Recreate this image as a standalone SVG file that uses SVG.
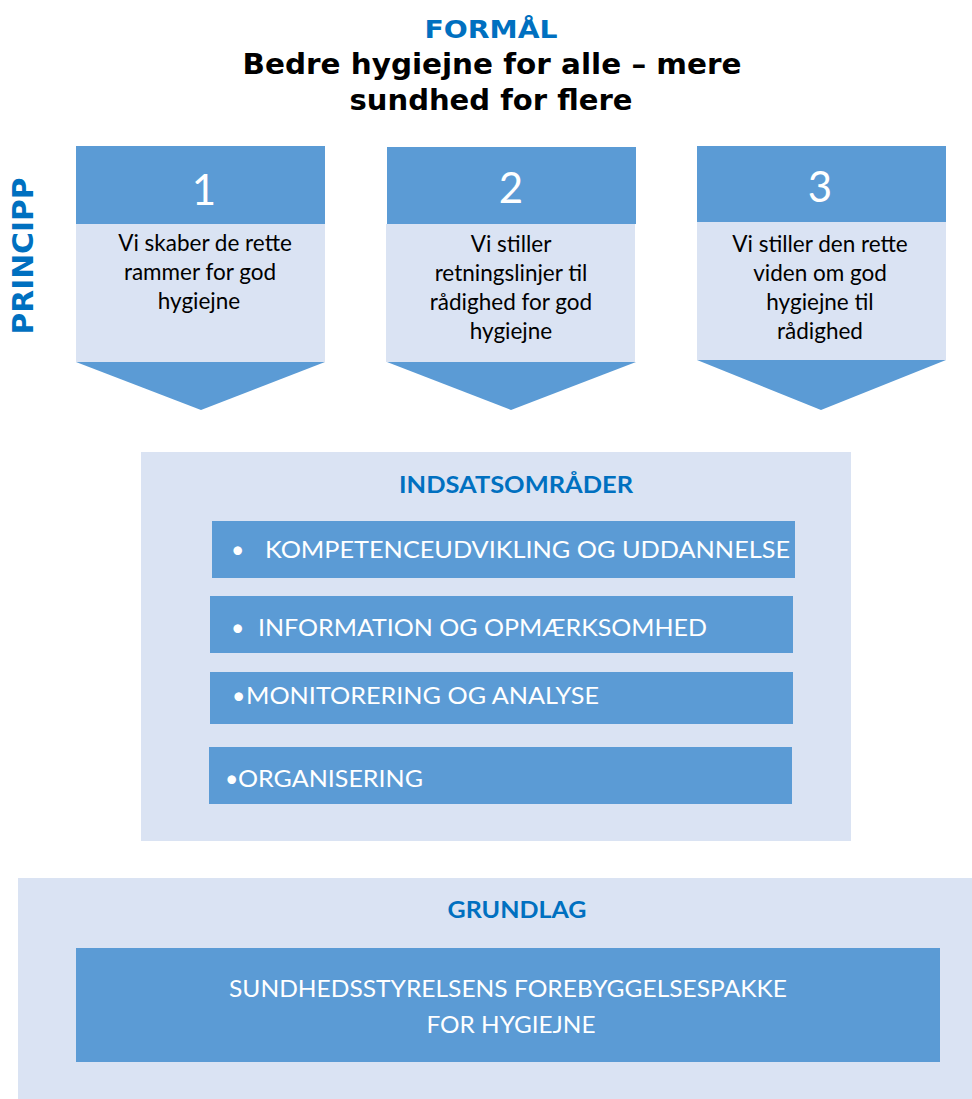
<svg xmlns="http://www.w3.org/2000/svg" width="972" height="1099" viewBox="0 0 972 1099">
<style>
.dark{fill:#5b9bd5}
.light{fill:#dae3f3}
.ttl{font-family:"DejaVu Sans",Verdana,sans-serif;font-weight:bold;text-anchor:middle}
.blue{fill:#0070c0}
.num{font-family:Lato,"Liberation Sans",sans-serif;font-size:42px;fill:#fff;text-anchor:middle}
.body{font-family:Lato,"Liberation Sans",sans-serif;font-size:22.5px;fill:#000;text-anchor:middle}
.hd{font-family:Lato,"Liberation Sans",sans-serif;font-weight:bold;font-size:23px;fill:#0070c0;text-anchor:middle}
.item{font-family:Lato,"Liberation Sans",sans-serif;font-size:23px;fill:#fff}
.ctr{text-anchor:middle}
</style>
<rect width="972" height="1099" fill="#fff"/>
<g id="title">
<text class="ttl blue" x="491" y="38" font-size="25" textLength="133" lengthAdjust="spacingAndGlyphs">FORMÅL</text>
<text class="ttl" x="492" y="74" font-size="28" textLength="499" lengthAdjust="spacingAndGlyphs">Bedre hygiejne for alle – mere</text>
<text class="ttl" x="491" y="110" font-size="28" textLength="283" lengthAdjust="spacingAndGlyphs">sundhed for flere</text>
</g>
<g id="princip-label">
<text class="ttl blue" transform="translate(33,256) rotate(-90)" x="0" y="0" font-size="29" textLength="157" lengthAdjust="spacingAndGlyphs">PRINCIPP</text>
</g>
<g id="principle-1">
<rect class="light" x="76" y="224" width="249" height="138"/>
<rect class="dark" x="76" y="146" width="249" height="78"/>
<polygon class="dark" points="76,362 325,362 201,410"/>
<text class="num" x="204" y="205">1</text>
<text class="body" x="205" y="251">Vi skaber de rette</text>
<text class="body" x="200" y="280">rammer for god</text>
<text class="body" x="199" y="309">hygiejne</text>
</g>
<g id="principle-2">
<rect class="light" x="386" y="224" width="249" height="138"/>
<rect class="dark" x="387" y="147" width="249" height="77"/>
<polygon class="dark" points="387,362 636,362 511,410"/>
<text class="num" x="511" y="203">2</text>
<text class="body" x="511" y="252">Vi stiller</text>
<text class="body" x="511" y="281">retningslinjer til</text>
<text class="body" x="511" y="310">rådighed for god</text>
<text class="body" x="511" y="339">hygiejne</text>
</g>
<g id="principle-3">
<rect class="light" x="697" y="222" width="249" height="138"/>
<rect class="dark" x="697" y="146" width="249" height="76"/>
<polygon class="dark" points="697,360 946,360 821,410"/>
<text class="num" x="820" y="202">3</text>
<text class="body" x="820" y="252">Vi stiller den rette</text>
<text class="body" x="820" y="281">viden om god</text>
<text class="body" x="820" y="310">hygiejne til</text>
<text class="body" x="820" y="339">rådighed</text>
</g>
<g id="indsatsomraader">
<rect class="light" x="141" y="452" width="710" height="389"/>
<text class="hd" x="516" y="493" textLength="234" lengthAdjust="spacingAndGlyphs">INDSATSOMRÅDER</text>
</g>
<g id="item-1">
<rect class="dark" x="212" y="521" width="583" height="57"/>
<text class="item" x="231" y="558">•</text>
<text class="item" x="265" y="558" textLength="525" lengthAdjust="spacingAndGlyphs">KOMPETENCEUDVIKLING OG UDDANNELSE</text>
</g>
<g id="item-2">
<rect class="dark" x="210" y="596" width="583" height="57"/>
<text class="item" x="231" y="636">•</text>
<text class="item" x="258" y="636" textLength="449" lengthAdjust="spacingAndGlyphs">INFORMATION OG OPMÆRKSOMHED</text>
</g>
<g id="item-3">
<rect class="dark" x="210" y="672" width="583" height="52"/>
<text class="item" x="232" y="704">•</text>
<text class="item" x="246" y="704" textLength="353" lengthAdjust="spacingAndGlyphs">MONITORERING OG ANALYSE</text>
</g>
<g id="item-4">
<rect class="dark" x="209" y="747" width="583" height="57"/>
<text class="item" x="225" y="787">•</text>
<text class="item" x="238" y="787" textLength="185" lengthAdjust="spacingAndGlyphs">ORGANISERING</text>
</g>
<g id="grundlag">
<rect class="light" x="18" y="878" width="954" height="221"/>
<text class="hd" x="517" y="918" textLength="139" lengthAdjust="spacingAndGlyphs">GRUNDLAG</text>
</g>
<g id="forebyggelsespakke">
<rect class="dark" x="76" y="948" width="864" height="114"/>
<text class="item ctr" x="508" y="997" textLength="558" lengthAdjust="spacingAndGlyphs">SUNDHEDSSTYRELSENS FOREBYGGELSESPAKKE</text>
<text class="item ctr" x="511" y="1033" textLength="169" lengthAdjust="spacingAndGlyphs">FOR HYGIEJNE</text>
</g>
<g id="connectors"></g>
</svg>
